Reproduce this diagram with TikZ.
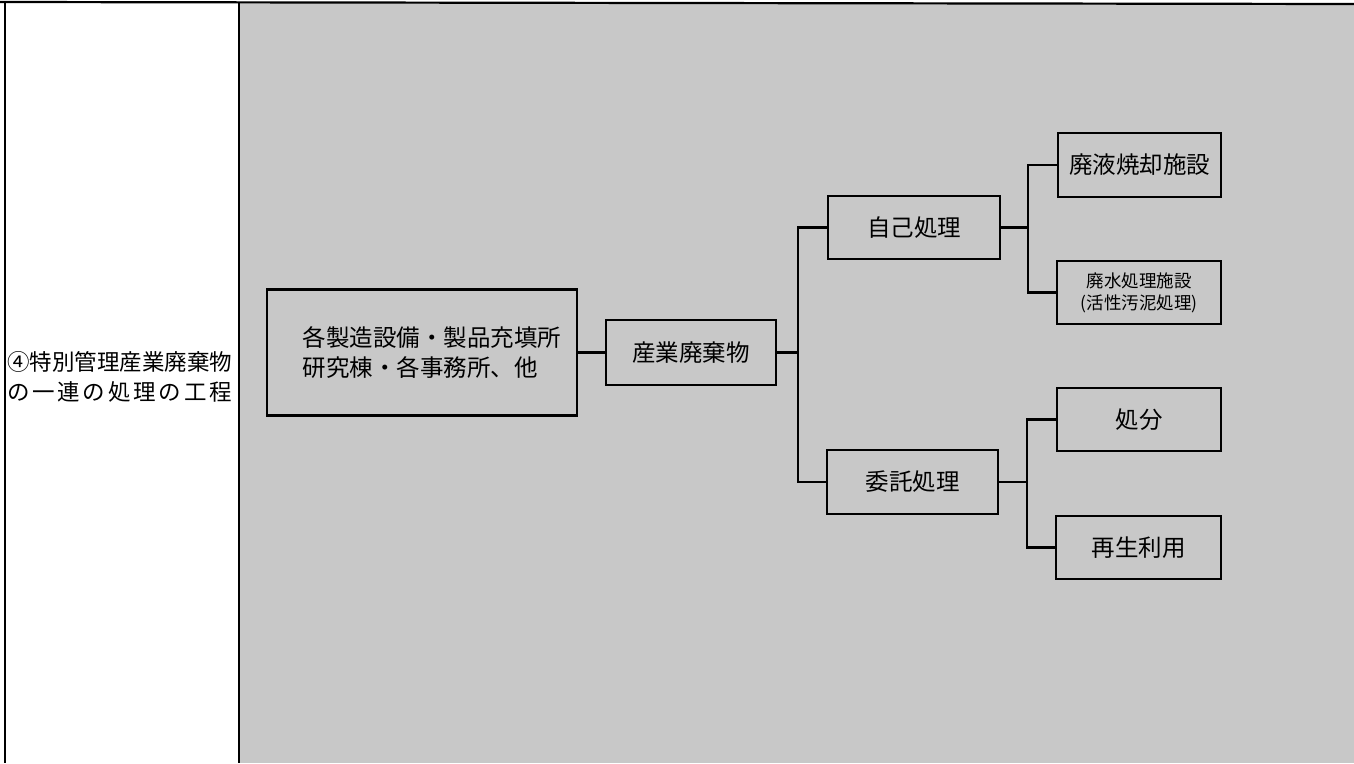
\documentclass[tikz,border=0pt]{standalone}
\usepackage{fontspec}
\setmainfont{Noto Sans CJK JP}
\begin{document}
\begin{tikzpicture}[x=1pt,y=-1pt,
  box/.style={draw=black,line width=2.2pt,fill=bggray,inner sep=0pt,
    font=\fontsize{23.5}{30}\selectfont},
  conn/.style={draw=black,line width=2.2pt},
  frame/.style={draw=black,line width=2.2pt}]
\definecolor{bggray}{HTML}{C8C8C8}
\useasboundingbox (0,0) rectangle (1354,763);
% background
\fill[white] (0,0) rectangle (1354,763);
\fill[bggray] (239,3) rectangle (1354,763);
% frame
\draw[frame] (0,2) -- (1354,4);
\draw[frame] (5,2) -- (5,763);
\draw[frame] (239,2) -- (239,763);
% left label
\node[anchor=center,font=\fontsize{22.5}{30}\selectfont,inner sep=0pt,align=left] (title) at (119.5,377)
  {④特別管理産業廃棄物\\\makebox[225pt][s]{の\hfill 一\hfill 連\hfill の\hfill 処\hfill 理\hfill の\hfill 工\hfill 程}};
% boxes
\node[box,minimum width=310pt,minimum height=126pt,align=left] (src) at (422,352.5)
  {\hspace*{20pt}各製造設備・製品充填所\\\hspace*{20pt}研究棟・各事務所、他};
\node[box,minimum width=170pt,minimum height=65pt] (sangyo) at (691,352.5) {産業廃棄物};
\node[box,minimum width=172pt,minimum height=63pt] (jiko) at (914,227.5) {自己処理};
\node[box,minimum width=171pt,minimum height=64pt] (itaku) at (912.5,482) {委託処理};
\node[box,minimum width=163pt,minimum height=64pt] (haieki) at (1139.5,165) {廃液焼却施設};
\node[box,minimum width=164pt,minimum height=63pt,align=center,
  font=\fontsize{17.5}{22}\selectfont] (haisui) at (1139,292.5) {廃水処理施設\\(活性汚泥処理)};
\node[box,minimum width=164pt,minimum height=63pt] (shobun) at (1139,419.5) {処分};
\node[box,minimum width=165pt,minimum height=63pt] (saisei) at (1138.5,547.5) {再生利用};
% junctions
\coordinate (j1) at (798,352.5);
\coordinate (j2) at (1028,227.5);
\coordinate (j3) at (1027,482);
% connectors
\draw[conn] (src.east) -- (sangyo.west);
\draw[conn] (sangyo.east) -- (j1);
\draw[conn] (jiko.west) -| (j1) |- (itaku.west);
\draw[conn] (jiko.east) -- (j2);
\draw[conn] (haieki.west) -| (j2) |- (haisui.west);
\draw[conn] (itaku.east) -- (j3);
\draw[conn] (shobun.west) -| (j3) |- (saisei.west);
\end{tikzpicture}
\end{document}
